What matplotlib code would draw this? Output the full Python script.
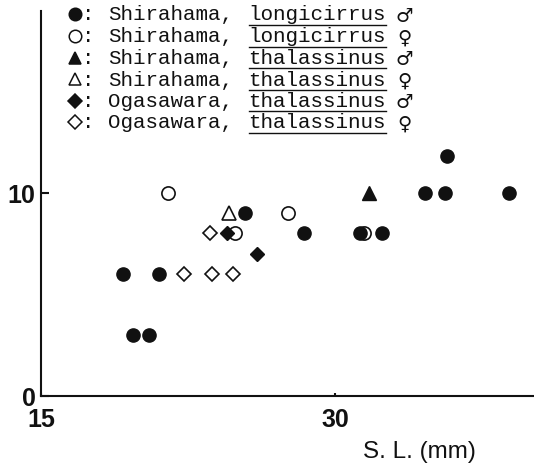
import matplotlib
matplotlib.use("Agg")
import matplotlib.pyplot as plt
from matplotlib.lines import Line2D

W, H = 534, 464

# ---- data (S.L. in mm, value) ----
sl_longi_m = [19.2, 19.7, 20.5, 21.0, 25.4, 28.4, 31.3, 32.4, 34.6, 35.6, 35.7, 38.9]
v_longi_m = [6, 3, 3, 6, 9, 8, 8, 8, 10, 10, 11.8, 10]
sl_longi_f = [21.5, 24.9, 27.6, 31.5]
v_longi_f = [10, 8, 9, 8]
sl_thal_m_shira = [31.75]
v_thal_m_shira = [10]
sl_thal_f_shira = [24.6]
v_thal_f_shira = [9]
sl_thal_m_oga = [24.5, 26.0]
v_thal_m_oga = [8, 7]
sl_thal_f_oga = [22.3, 23.6, 23.7, 24.8]
v_thal_f_oga = [6, 8, 6, 6]

x_ticks = [15, 30]
y_ticks = [0, 10]

legend_sites = ["Shirahama,", "Shirahama,", "Shirahama,", "Shirahama,", "Ogasawara,", "Ogasawara,"]
legend_species = ["longicirrus", "longicirrus", "thalassinus", "thalassinus", "thalassinus", "thalassinus"]
legend_sex = ["♂", "♀", "♂", "♀", "♂", "♀"]

fig = plt.figure(figsize=(W / 100, H / 100), dpi=100)
left, right, bottom, top = 41, 533, 397, 12
ax = fig.add_axes([left / W, 1 - bottom / H, (right - left) / W, (bottom - top) / H])
ax.set_xlim(15, 15 + (right - left) / 19.6)
ax.set_ylim(0, (bottom - top) / 20.35)

ink = "#111111"
ms_c = 9.5
ax.plot(sl_longi_f, v_longi_f, "o", ms=ms_c, mfc="white", mec=ink, mew=1.2, ls="none", zorder=3)
ax.plot(sl_longi_m, v_longi_m, "o", ms=ms_c, mfc=ink, mec=ink, ls="none", zorder=4)
ax.plot(sl_thal_m_shira, v_thal_m_shira, "^", ms=ms_c, mfc=ink, mec=ink, ls="none", zorder=4)
ax.plot(sl_thal_f_shira, v_thal_f_shira, "^", ms=ms_c, mfc="white", mec=ink, mew=1.2, ls="none", zorder=4)
ax.plot(sl_thal_m_oga, v_thal_m_oga, "D", ms=7.5, mfc=ink, mec=ink, ls="none", zorder=5)
ax.plot(sl_thal_f_oga, v_thal_f_oga, "D", ms=7.5, mfc="white", mec=ink, mew=1.2, ls="none", zorder=4)

for s in ["top", "right"]:
    ax.spines[s].set_visible(False)
for s in ["left", "bottom"]:
    ax.spines[s].set_linewidth(1.5)
    ax.spines[s].set_color(ink)

ax.set_xticks(x_ticks)
ax.set_yticks(y_ticks)
ax.set_xticklabels([str(t) for t in x_ticks])
ax.set_yticklabels([str(t) for t in y_ticks])
ax.tick_params(axis="x", direction="in", length=2.5, width=1.5, pad=8, colors=ink,
               labelsize=18)
ax.tick_params(axis="y", direction="in", length=6, width=1.5, pad=4, colors=ink,
               labelsize=18)
for lab in ax.get_xticklabels() + ax.get_yticklabels():
    lab.set_fontfamily("Liberation Sans")
    lab.set_fontweight("bold")

def fx(px):
    return px / W

def fy(py):
    return 1 - py / H

fig.text(fx(419), fy(452), "S. L. (mm)", ha="center", va="center",
         fontsize=17.5, family="Liberation Sans", color=ink)

# ---- legend block ----
rows_y = [15, 37, 58.5, 80, 101.5, 123]
markers = [("o", ink), ("o", "white"), ("^", ink), ("^", "white"), ("D", ink), ("D", "white")]
mono = ["Liberation Mono", "DejaVu Sans Mono"]
for i, y in enumerate(rows_y):
    mk, fc = markers[i]
    size = 7 if mk == "D" else 9
    fig.add_artist(Line2D([fx(75)], [fy(y)], marker=mk, ms=size, mfc=fc, mec=ink,
                          mew=1.1, ls="none", transform=fig.transFigure))
    fig.text(fx(88), fy(y), ":", ha="center", va="center", fontsize=15, family=mono, color=ink)
    fig.text(fx(108), fy(y), legend_sites[i], ha="left", va="center", fontsize=15,
             family=mono, color=ink)
    fig.text(fx(248), fy(y), legend_species[i], ha="left", va="center", fontsize=15,
             family=mono, color=ink)
    fig.add_artist(Line2D([fx(249), fx(386)], [fy(y + 10.5)] * 2, lw=1.0, color=ink,
                          transform=fig.transFigure))
    fig.text(fx(404), fy(y + 1), legend_sex[i], ha="center", va="center", fontsize=14,
             family=["DejaVu Sans"], color=ink)

fig.savefig("out.png", dpi=100)
